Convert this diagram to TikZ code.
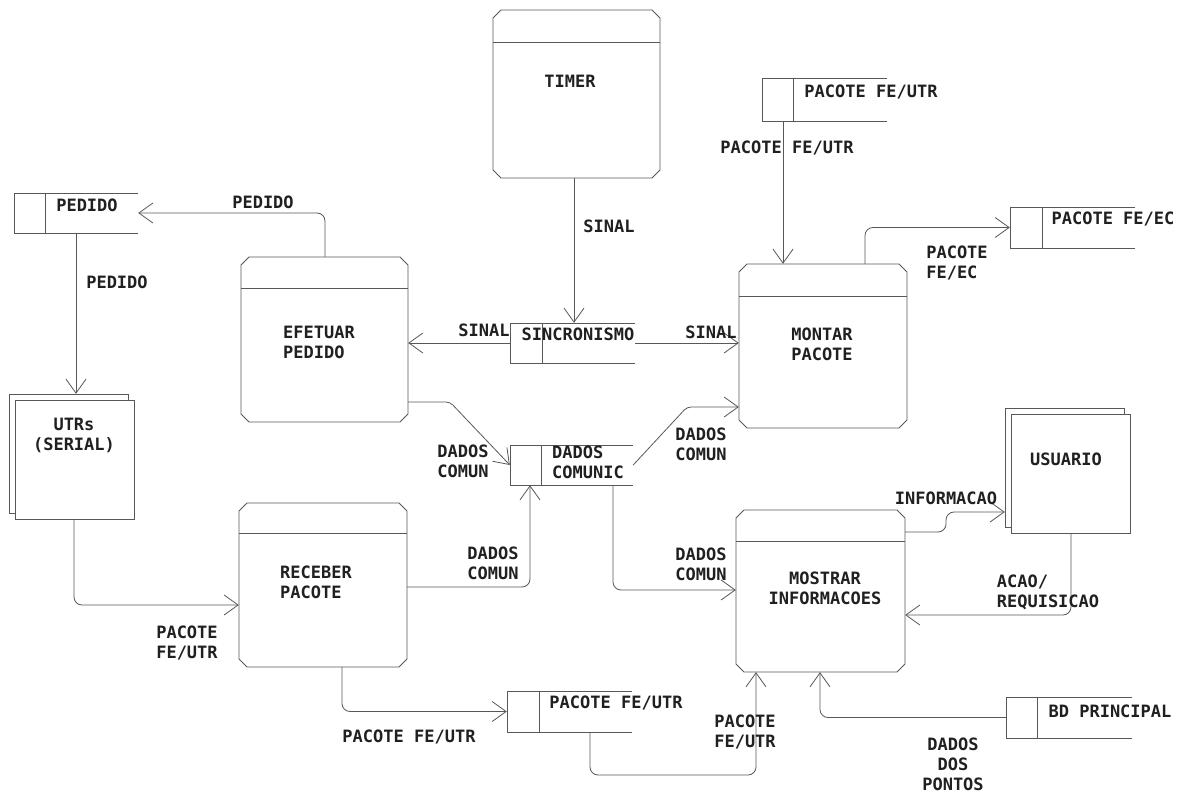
\documentclass[tikz,border=0pt]{standalone}
\usepackage{fontspec}
\setmonofont{DejaVu Sans Mono}
\usetikzlibrary{arrows.meta,fit}
\definecolor{linec}{HTML}{585858}
\definecolor{textc}{HTML}{202020}
\newcommand\procbox[6]{%
  \draw[ln] ({#2+8},#3) -- ({#4-8},#3) -- (#4,{#3+8}) -- (#4,{#5-8}) -- ({#4-8},#5) -- ({#2+8},#5) -- (#2,{#5-8}) -- (#2,{#3+8}) -- cycle;
  \draw[ln] (#2,#6) -- (#4,#6);
  \node[fit={(#2,#3) (#4,#5)}, inner sep=0pt] (#1) {};
}
\newcommand\storebox[6]{%
  \draw[ln] (#5,#3) -- (#2,#3) -- (#2,#6) -- (#5,#6);
  \draw[ln] (#4,#3) -- (#4,#6);
  \node[fit={(#2,#3) (#5,#6)}, inner sep=0pt] (#1) {};
}
\newcommand\entbox[5]{%
  \draw[ln] (#2,{#5-6}) -- ({#2-6},{#5-6}) -- ({#2-6},{#3-6}) -- ({#4-6},{#3-6}) -- ({#4-6},#3);
  \draw[ln] (#2,#3) rectangle (#4,#5);
  \node[fit={(#2,#3) (#4,#5)}, inner sep=0pt] (#1) {};
  \node[fit={({#2-6},{#3-6}) ({#4-6},{#5-6})}, inner sep=0pt] (#1back) {};
}
\begin{document}
\begin{tikzpicture}[x=1pt,y=-1pt,
  ln/.style={draw=linec, line width=0.8pt},
  flow/.style={ln, rounded corners=8pt, -{Straight Barb[length=14pt,width=20pt,line width=0.8pt]}},
  lbl/.style={font=\ttfamily\bfseries\fontsize{17}{20}\selectfont, text=textc, inner sep=0pt, align=center},
  lbll/.style={lbl, align=left}]
\useasboundingbox (0,0) rectangle (1180,794);
\fill[white] (0,0) rectangle (1180,794);

% processes
\procbox{timer}{493}{10}{660}{178}{42}
\procbox{efetuar}{241}{257}{408}{422}{288}
\procbox{montar}{739}{264}{907}{428}{296}
\procbox{receber}{239}{503}{407}{667}{533}
\procbox{mostrar}{736}{510}{905}{672}{541}

% stores
\storebox{pedido}{14}{193}{45}{138}{233}
\storebox{pfu1}{762}{78}{793}{887}{121}
\storebox{pfe}{1010}{207}{1042}{1135}{248}
\storebox{sinc}{510}{323}{542}{635}{363}
\storebox{dcom}{510}{445}{541}{633}{485}
\storebox{pfu2}{507}{691}{539}{632}{732}
\storebox{bd}{1006}{697}{1037}{1132}{738}

% external entities
\entbox{utrs}{15}{400}{134}{519}
\entbox{usuario}{1011}{414}{1130}{533}

% texts in shapes
\node[lbl] (ttimer) at (570,81) {TIMER};
\node[lbll, anchor=west] (tefetuar) at (283,342) {EFETUAR\\PEDIDO};
\node[lbl] (tmontar) at (822,344) {MONTAR\\PACOTE};
\node[lbll, anchor=west] (treceber) at (280,582) {RECEBER\\PACOTE};
\node[lbl] (tmostrar) at (825,588) {MOSTRAR\\INFORMACOES};
\node[lbl] (tpedido) at (87,205) {PEDIDO};
\node[lbl] (tpfu1) at (871,92) {PACOTE FE/UTR};
\node[lbl] (tpfe) at (1113,219) {PACOTE FE/EC};
\node[lbl] (tsinc) at (578,334) {SINCRONISMO};
\node[lbll, anchor=west] (tdcom) at (552,462) {DADOS\\COMUNIC};
\node[lbl] (tpfu2) at (616,703) {PACOTE FE/UTR};
\node[lbl] (tbd) at (1110,711) {BD PRINCIPAL};
\node[lbl] (tutrs) at (74,435) {UTRs\\(SERIAL)};
\node[lbl] (tusuario) at (1066,459) {USUARIO};

% flows
\draw[flow] (efetuar.north -| 325,0) |- (pedido.east);
\draw[flow] (pedido.south -| 76,0) -- (utrsback.north -| 76,0);
\draw[flow] (timer.south -| 574,0) -- (sinc.north -| 574,0);
\draw[flow] (sinc.west) -- (efetuar.east |- sinc.west);
\draw[flow] (sinc.east) -- (montar.west |- sinc.east);
\draw[flow] (pfu1.south -| 783,0) -- (montar.north -| 783,0);
\draw[flow] (montar.north -| 865,0) |- (pfe.west);
\draw[flow, rounded corners=4pt] (efetuar.east |- 0,402) -- (450,402) -- (dcom.west);
\draw[flow, rounded corners=4pt] (dcom.east) -- (687,407) -- (montar.west |- 0,407);
\draw[flow] (receber.east |- 0,587) -| (dcom.south -| 530,0);
\draw[flow] (utrs.south -| 74,0) |- (receber.west |- 0,605);
\draw[flow] (dcom.south -| 613,0) |- (mostrar.west |- 0,590);
\draw[flow] (mostrar.east |- 0,532) -- (946,532) -- (946,512) -- (usuarioback.west |- 0,512);
\draw[flow] (usuario.south -| 1071,0) |- (mostrar.east |- 0,615);
\draw[flow] (receber.south -| 342,0) |- (pfu2.west);
\draw[flow] (pfu2.south -| 590,0) |- (756,775) -- (mostrar.south -| 756,0);
\draw[flow] (bd.west) -| (mostrar.south -| 820,0);

% flow labels
\node[lbl] (l1) at (263,202) {PEDIDO};
\node[lbl] (l2) at (117,282) {PEDIDO};
\node[lbl] (l3) at (609,226) {SINAL};
\node[lbl] (l4) at (484,330) {SINAL};
\node[lbl] (l5) at (711,332) {SINAL};
\node[lbl] (l6) at (787,148) {PACOTE FE/UTR};
\node[lbll] (l7) at (957,263) {PACOTE\\FE/EC};
\node[lbl] (l8) at (463,461) {DADOS\\COMUN};
\node[lbl] (l9) at (701,444) {DADOS\\COMUN};
\node[lbl] (l10) at (493,563) {DADOS\\COMUN};
\node[lbl] (l11) at (701,564) {DADOS\\COMUN};
\node[lbll] (l12) at (187,643) {PACOTE\\FE/UTR};
\node[lbl] (l13) at (946,498) {INFORMACAO};
\node[lbll] (l14) at (1048,592) {ACAO/\\REQUISICAO};
\node[lbl] (l15) at (409,737) {PACOTE FE/UTR};
\node[lbll] (l16) at (745,732) {PACOTE\\FE/UTR};
\node[lbl] (l17) at (953,764) {DADOS\\DOS\\PONTOS};
\end{tikzpicture}
\end{document}
